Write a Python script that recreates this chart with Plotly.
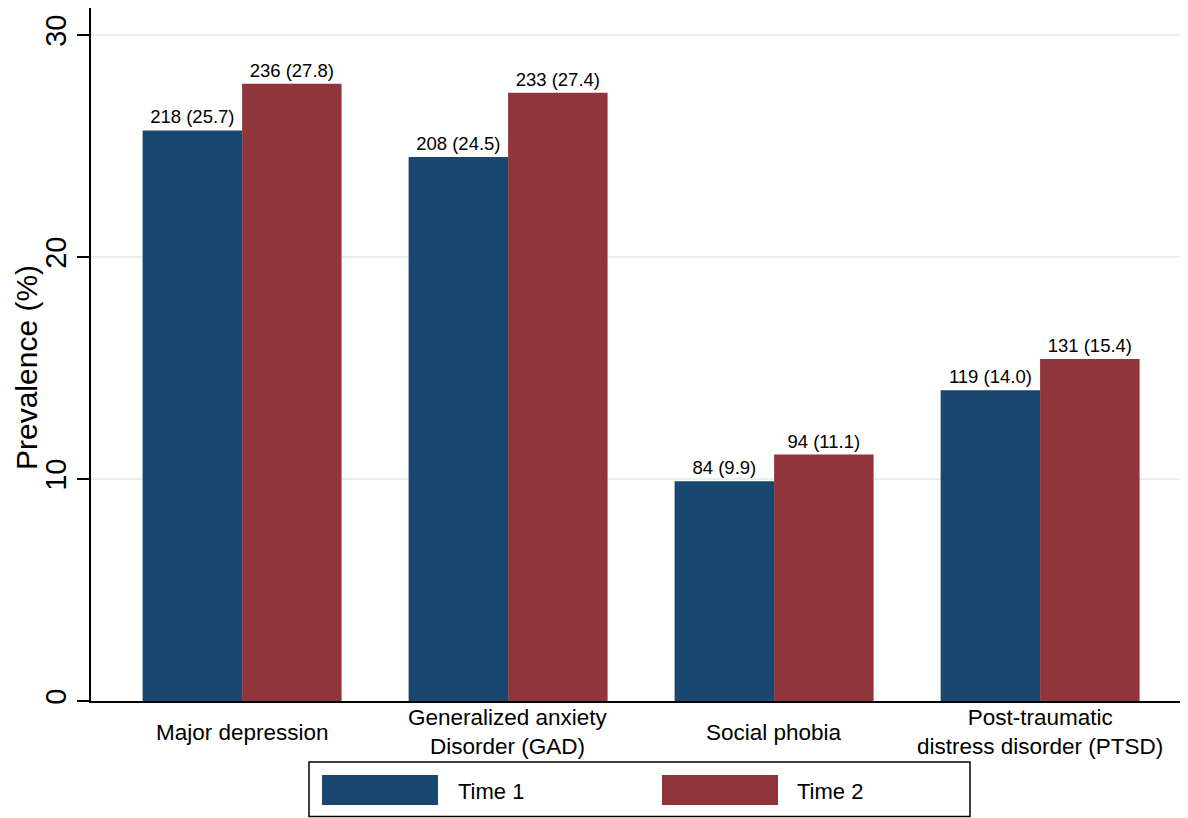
import plotly.graph_objects as go

categories = ["Major depression", "Generalized anxiety<br>Disorder (GAD)",
              "Social phobia", "Post-traumatic<br>distress disorder (PTSD)"]
series_names = ["Time 1", "Time 2"]
time1_pct = [25.7, 24.5, 9.9, 14.0]
time2_pct = [27.8, 27.4, 11.1, 15.4]
time1_n = [218, 208, 84, 119]
time2_n = [236, 233, 94, 131]
y_ticks = [0, 10, 20, 30]
y_title = "Prevalence (%)"
colors = ["#1A476F", "#90353B"]

FONT = "Liberation Sans, Arial, sans-serif"
OFF = 8  # page body margin
W, H = 1188 - OFF, 818 - OFF
# plot area in screen pixels
L, R, T, B = 91, 1188, OFF, 701


def px(xs):
    return (xs - L) / (R - L)


def py(ys):
    return (B - ys) / (B - T)


# y scale: 0 at screen 701, 30 at screen 35
y_top = 30 + (35 - T) * 30 / (B - 35)

fig = go.Figure()
for name, pct, n, col in [(series_names[0], time1_pct, time1_n, colors[0]),
                          (series_names[1], time2_pct, time2_n, colors[1])]:
    fig.add_trace(go.Bar(
        x=list(range(len(categories))), y=pct, name=name,
        marker=dict(color=col, line=dict(width=0)),
        text=[f"{a} ({b:.1f})" for a, b in zip(n, pct)],
        textposition="outside", cliponaxis=False,
        textfont=dict(family=FONT, size=18.5, color="black"),
        showlegend=False,
    ))

annotations = []
for i, c in enumerate(categories):
    annotations.append(dict(x=i, xref="x", y=py(732), yref="paper",
                            text=c, showarrow=False, yanchor="middle",
                            xanchor="center",
                            font=dict(family=FONT, size=22.5, color="black")))

# y-axis title
annotations.append(dict(x=px(27), xref="paper", y=py(368), yref="paper",
                        text=y_title, showarrow=False, textangle=-90,
                        xanchor="center", yanchor="middle", borderpad=0,
                        font=dict(family=FONT, size=30, color="black")))

shapes = [dict(type="rect", xref="paper", yref="paper",
               x0=px(309), x1=px(970), y0=py(816.5), y1=py(762),
               line=dict(color="black", width=1.5), fillcolor="white")]
for (sx, tx), name, col in zip([(322, 456), (662, 795)], series_names, colors):
    shapes.append(dict(type="rect", xref="paper", yref="paper",
                       x0=px(sx), x1=px(sx + 116), y0=py(805), y1=py(775),
                       line=dict(width=0), fillcolor=col))
    annotations.append(dict(x=px(tx), xref="paper", y=py(791), yref="paper",
                            text=name, showarrow=False, xanchor="left",
                            yanchor="middle",
                            font=dict(family=FONT, size=22, color="black")))

fig.update_layout(
    width=W, height=H,
    margin=dict(l=L - OFF, r=0, t=T - OFF, b=H - (B - OFF)),
    paper_bgcolor="white", plot_bgcolor="white",
    barmode="group", bargap=0.252, bargroupgap=0,
    font=dict(family=FONT, color="black"),
    annotations=annotations, shapes=shapes,
    xaxis=dict(range=[-0.568, 3.556], showticklabels=False, ticks="",
               showgrid=False, zeroline=False, showline=True,
               linecolor="black", linewidth=1.5),
    yaxis=dict(range=[0, y_top], tickvals=y_ticks,
               ticktext=[str(v) for v in y_ticks], tickangle=-90,
               ticks="outside", ticklen=12, tickcolor="black", tickwidth=1.5,
               tickfont=dict(family=FONT, size=29),
               showgrid=True, gridcolor="#E6EFF1", gridwidth=2,
               zeroline=False, showline=True, linecolor="black",
               linewidth=1.5),
)

fig.write_html("out.html")
